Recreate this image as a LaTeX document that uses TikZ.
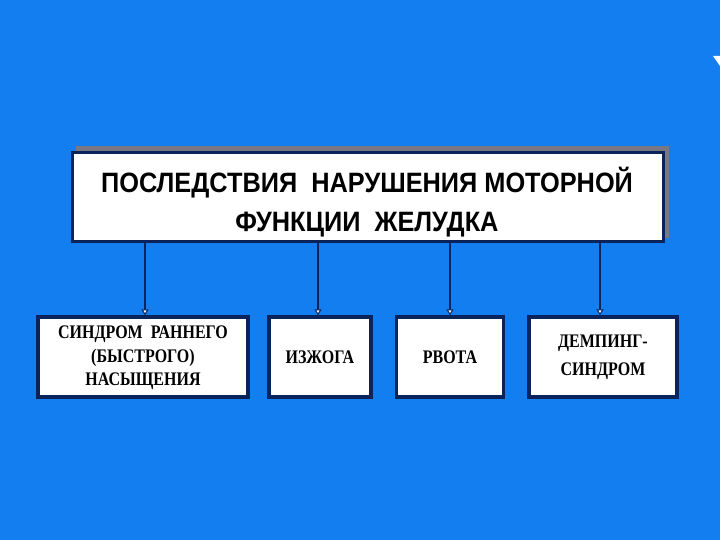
\documentclass[tikz,border=0pt]{standalone}
\usepackage{fontspec}
\setmainfont{Liberation Serif}
\newfontfamily\headfont{Liberation Sans}
\usetikzlibrary{arrows.meta}
\definecolor{bg}{RGB}{18,126,240}
\definecolor{navy}{RGB}{10,35,90}
\definecolor{shadowgray}{RGB}{120,120,130}
\tikzset{
  box/.style={draw=navy, line width=3.4pt, fill=white},
  conn/.style={draw=navy, line width=2pt, -{Triangle[open, length=6pt, width=7pt, fill=white, line width=1pt]}},
  smalltxt/.style={font=\fontsize{16}{19.5}\selectfont\bfseries, align=center, text=black, yscale=1.2},
}
\begin{document}
\begin{tikzpicture}[x=1pt,y=-1pt]
\fill[bg] (0,0) rectangle (720,540);
\useasboundingbox (0,0) rectangle (720,540);
% top box with grey shadow
\fill[shadowgray] (76,146) rectangle (669,238);
\node[box, minimum width=591pt, minimum height=89pt, inner sep=0pt] (top) at (368,197) {};
\node[font=\headfont\fontsize{28}{39}\selectfont\bfseries, align=center, xscale=0.905] (toptxt) at (367,202)
  {ПОСЛЕДСТВИЯ\ \ НАРУШЕНИЯ МОТОРНОЙ\\ФУНКЦИИ\ \ ЖЕЛУДКА};
% bottom boxes
\node[box, minimum width=210pt, minimum height=80pt, inner sep=0pt] (b1) at (143,357) {};
\node[box, minimum width=102pt, minimum height=80pt, inner sep=0pt] (b2) at (320,357) {};
\node[box, minimum width=107pt, minimum height=80pt, inner sep=0pt] (b3) at (450,357) {};
\node[box, minimum width=148pt, minimum height=80pt, inner sep=0pt] (b4) at (603,357) {};
\node[smalltxt] (t1) at (143,358) {СИНДРОМ\ \ РАННЕГО\\(БЫСТРОГО)\\НАСЫЩЕНИЯ};
\node[smalltxt] (t2) at (320,357) {ИЗЖОГА};
\node[smalltxt] (t3) at (450,357) {РВОТА};
\node[smalltxt, font=\fontsize{16}{23.5}\selectfont\bfseries] (t4) at (603,357) {ДЕМПИНГ-\\СИНДРОМ};
% connectors
\draw[conn] (top.south -| 145,0) -- (b1.north -| 145,0);
\draw[conn] (top.south -| 318,0) -- (b2.north -| 318,0);
\draw[conn] (top.south -| 450,0) -- (b3.north -| 450,0);
\draw[conn] (top.south -| 600,0) -- (b4.north -| 600,0);
% small white mark at top right
\fill[white] (713,56) -- (720,56) -- (720,66) -- cycle;
\end{tikzpicture}
\end{document}
